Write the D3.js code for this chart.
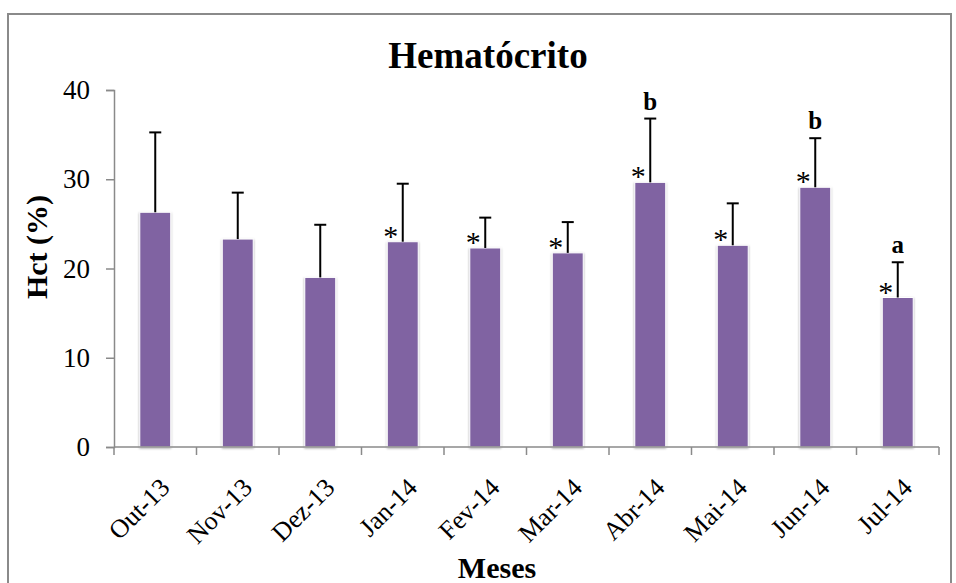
<!DOCTYPE html>
<html>
<head>
<meta charset="utf-8">
<script src="https://cdn.jsdelivr.net/npm/d3@7"></script>
<style>
  html, body { margin: 0; padding: 0; background: #fff; }
  svg { display: block; }
  svg text { font-family: "Liberation Serif", serif; fill: #000; }
</style>
</head>
<body>
<svg id="chart" width="956" height="583"></svg>
<script>
// Monthly hematocrit (mean + SD)
const months = ["Out-13", "Nov-13", "Dez-13", "Jan-14", "Fev-14", "Mar-14", "Abr-14", "Mai-14", "Jun-14", "Jul-14"];
const hct = [26.3, 23.3, 19.0, 23.0, 22.3, 21.75, 29.65, 22.6, 29.1, 16.75];
const sd = [8.95, 5.2, 5.9, 6.5, 3.4, 3.45, 7.15, 4.7, 5.5, 3.95];
const star = [false, false, false, true, true, true, true, true, true, true];
const letters = ["", "", "", "", "", "", "b", "", "b", "a"];
const yTicks = [0, 10, 20, 30, 40];

const serif = "'Liberation Serif', serif";
const svg = d3.select("#chart");
const plotLeft = 114, plotRight = 939, plotTop = 90, plotBottom = 447;

// outer frame
svg.append("rect")
  .attr("x", 8).attr("y", 14).attr("width", 943).attr("height", 580)
  .attr("fill", "none").attr("stroke", "#8a8a8a").attr("stroke-width", 2);

const defs = svg.append("defs");
const f = defs.append("filter").attr("id", "shadow")
  .attr("x", "-30%").attr("y", "-10%").attr("width", "160%").attr("height", "120%");
f.append("feDropShadow").attr("dx", 0).attr("dy", 1).attr("stdDeviation", 1.3)
  .attr("flood-color", "#000").attr("flood-opacity", 0.35);

const x = d3.scaleBand().domain(months).range([plotLeft, plotRight])
  .paddingInner(0.625).paddingOuter(0.3125);
const y = d3.scaleLinear().domain([0, 40]).range([plotBottom, plotTop]);

// title
svg.append("text").attr("x", 488).attr("y", 68)
  .attr("font-family", serif)
  .attr("text-anchor", "middle").attr("font-weight", "bold").attr("font-size", 37)
  .text("Hematócrito");

// y axis
const yAxis = svg.append("g").attr("transform", `translate(${plotLeft},0)`)
  .call(d3.axisLeft(y).tickValues(yTicks).tickSize(8).tickPadding(16).tickFormat(d3.format("d")))
  .attr("font-family", serif);
yAxis.select(".domain").attr("stroke", "#8a8a8a").attr("stroke-width", 1.5);
yAxis.selectAll(".tick line").attr("stroke", "#8a8a8a").attr("stroke-width", 1.5);
yAxis.selectAll(".tick text").attr("font-size", 27).attr("fill", "#000");

// bars
const bars = svg.append("g");
bars.selectAll("rect").data(months).join("rect")
  .attr("x", d => x(d))
  .attr("y", (d, i) => y(hct[i]))
  .attr("width", x.bandwidth())
  .attr("height", (d, i) => y(0) - y(hct[i]))
  .attr("fill", "#8064A2")
  .attr("stroke", "#fff").attr("stroke-width", 1)
  .attr("filter", "url(#shadow)");

// x axis line and boundary ticks
const step = x.step();
const bounds = months.map(d => x(d) + x.bandwidth() / 2 - step / 2);
bounds.push(x(months[months.length - 1]) + x.bandwidth() / 2 + step / 2);
const xg = svg.append("g").attr("font-family", serif);
xg.append("line").attr("x1", plotLeft).attr("x2", plotRight).attr("y1", plotBottom).attr("y2", plotBottom)
  .attr("stroke", "#8a8a8a").attr("stroke-width", 1.5);
xg.selectAll("line.tk").data(bounds).join("line").attr("class", "tk")
  .attr("x1", d => d).attr("x2", d => d).attr("y1", plotBottom).attr("y2", plotBottom + 8)
  .attr("stroke", "#8a8a8a").attr("stroke-width", 1.5);

// rotated month labels
xg.selectAll("text").data(months).join("text")
  .attr("text-anchor", "end").attr("font-size", 26)
  .attr("transform", d => `translate(${x(d) + x.bandwidth() / 2 + 16},${plotBottom + 42}) rotate(-45)`)
  .text(d => d);

// error bars (upper only)
const eg = svg.append("g").attr("stroke", "#000").attr("stroke-width", 2);
months.forEach((m, i) => {
  const cx = x(m) + x.bandwidth() / 2;
  const yt = y(hct[i] + sd[i]);
  eg.append("line").attr("x1", cx).attr("x2", cx).attr("y1", y(hct[i])).attr("y2", yt);
  eg.append("line").attr("x1", cx - 6).attr("x2", cx + 6).attr("y1", yt).attr("y2", yt);
});

// significance markers
const mk = svg.append("g").attr("font-family", serif);
months.forEach((m, i) => {
  const cx = x(m) + x.bandwidth() / 2;
  if (star[i]) {
    mk.append("text").attr("x", cx - 12).attr("y", y(hct[i]) + 4)
      .attr("text-anchor", "middle").attr("font-size", 30).text("*");
  }
  if (letters[i]) {
    mk.append("text").attr("x", cx).attr("y", y(hct[i] + sd[i]) - 9)
      .attr("text-anchor", "middle").attr("font-weight", "bold").attr("font-size", 25)
      .text(letters[i]);
  }
});

// axis titles
svg.append("text").attr("transform", "translate(47,247) rotate(-90)")
  .attr("font-family", serif)
  .attr("text-anchor", "middle").attr("font-weight", "bold").attr("font-size", 30)
  .text("Hct (%)");
svg.append("text").attr("x", 497).attr("y", 578)
  .attr("font-family", serif)
  .attr("text-anchor", "middle").attr("font-weight", "bold").attr("font-size", 30)
  .text("Meses");
</script>
</body>
</html>
